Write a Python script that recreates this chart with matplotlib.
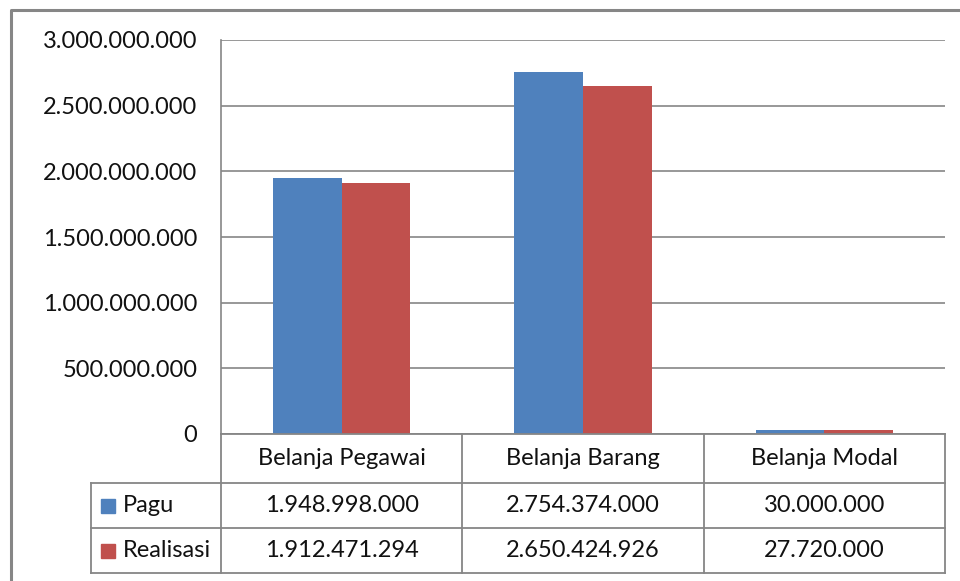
import matplotlib.pyplot as plt
from matplotlib.lines import Line2D
from matplotlib.patches import Rectangle

# Data
kategori = ['Belanja Pegawai', 'Belanja Barang', 'Belanja Modal']
pagu = [1948998000, 2754374000, 30000000]
realisasi = [1912471294, 2650424926, 27720000]
seri = ['Pagu', 'Realisasi']
warna = ['#4F81BD', '#C0504D']
yticks = [0, 500000000, 1000000000, 1500000000, 2000000000, 2500000000, 3000000000]

W, H = 960, 581
plt.rcParams['font.family'] = ['Lato', 'DejaVu Sans']
fig = plt.figure(figsize=(W / 100, H / 100), dpi=100)

def fx(x):
    return x / W

def fy(y):
    return 1 - y / H

def rupiah(v):
    return f'{v:,}'.replace(',', '.')

grey = '#868686'
fs = 17

# plot area in pixel units
L, R, T, B = 221, 945, 40, 434
ax = fig.add_axes([fx(L), fy(B), fx(R - L), (B - T) / H])
ax.set_xlim(-0.5, len(kategori) - 0.5)
ax.set_ylim(0, 3000000000)

bw = 0.284
xs = range(len(kategori))
ax.bar([x - bw / 2 for x in xs], pagu, width=bw, color=warna[0], zorder=3)
ax.bar([x + bw / 2 for x in xs], realisasi, width=bw, color=warna[1], zorder=3)

ax.set_yticks(yticks)
ax.set_yticklabels([rupiah(v) for v in yticks], fontsize=fs, color='#111111')
ax.tick_params(axis='y', length=0, pad=17)
ax.set_xticks([])
ax.grid(axis='y', color=grey, linewidth=1.2, zorder=0)
for s in ['top', 'right', 'bottom']:
    ax.spines[s].set_visible(False)
ax.spines['left'].set_color(grey)
ax.spines['left'].set_linewidth(1.2)

# data table underneath the bars
rows = [434, 483, 528, 573]
cols = [L + (R - L) * i / len(kategori) for i in range(len(kategori) + 1)]
leg_left = 91

def hline(y, x0, x1):
    fig.add_artist(Line2D([fx(x0), fx(x1)], [fy(y), fy(y)], color=grey, lw=1.3))

def vline(x, y0, y1):
    fig.add_artist(Line2D([fx(x), fx(x)], [fy(y0), fy(y1)], color=grey, lw=1.3))

hline(rows[0], L, R)
for y in rows[1:]:
    hline(y, leg_left, R)
vline(leg_left, rows[1], rows[3])
vline(L, rows[0], rows[3])
for x in cols[1:]:
    vline(x, rows[0], rows[3])

for i, nama in enumerate(kategori):
    cx = (cols[i] + cols[i + 1]) / 2
    fig.text(fx(cx), fy((rows[0] + rows[1]) / 2), nama, ha='center', va='center',
             fontsize=fs, color='#111111')
    for j, vals in enumerate([pagu, realisasi]):
        fig.text(fx(cx), fy((rows[j + 1] + rows[j + 2]) / 2), rupiah(vals[i]),
                 ha='center', va='center', fontsize=fs, color='#111111')

for j, nama in enumerate(seri):
    yc = (rows[j + 1] + rows[j + 2]) / 2
    fig.add_artist(Rectangle((fx(101), fy(yc + 7)), 14 / W, 14 / H, color=warna[j]))
    fig.text(fx(123), fy(yc), nama, ha='left', va='center', fontsize=fs, color='#111111')

# chart border
fig.add_artist(Line2D([fx(11), fx(11), fx(W + 5)], [fy(H + 5), fy(10), fy(10)],
                      color=grey, lw=2.2))

fig.savefig('out.png', dpi=100)
